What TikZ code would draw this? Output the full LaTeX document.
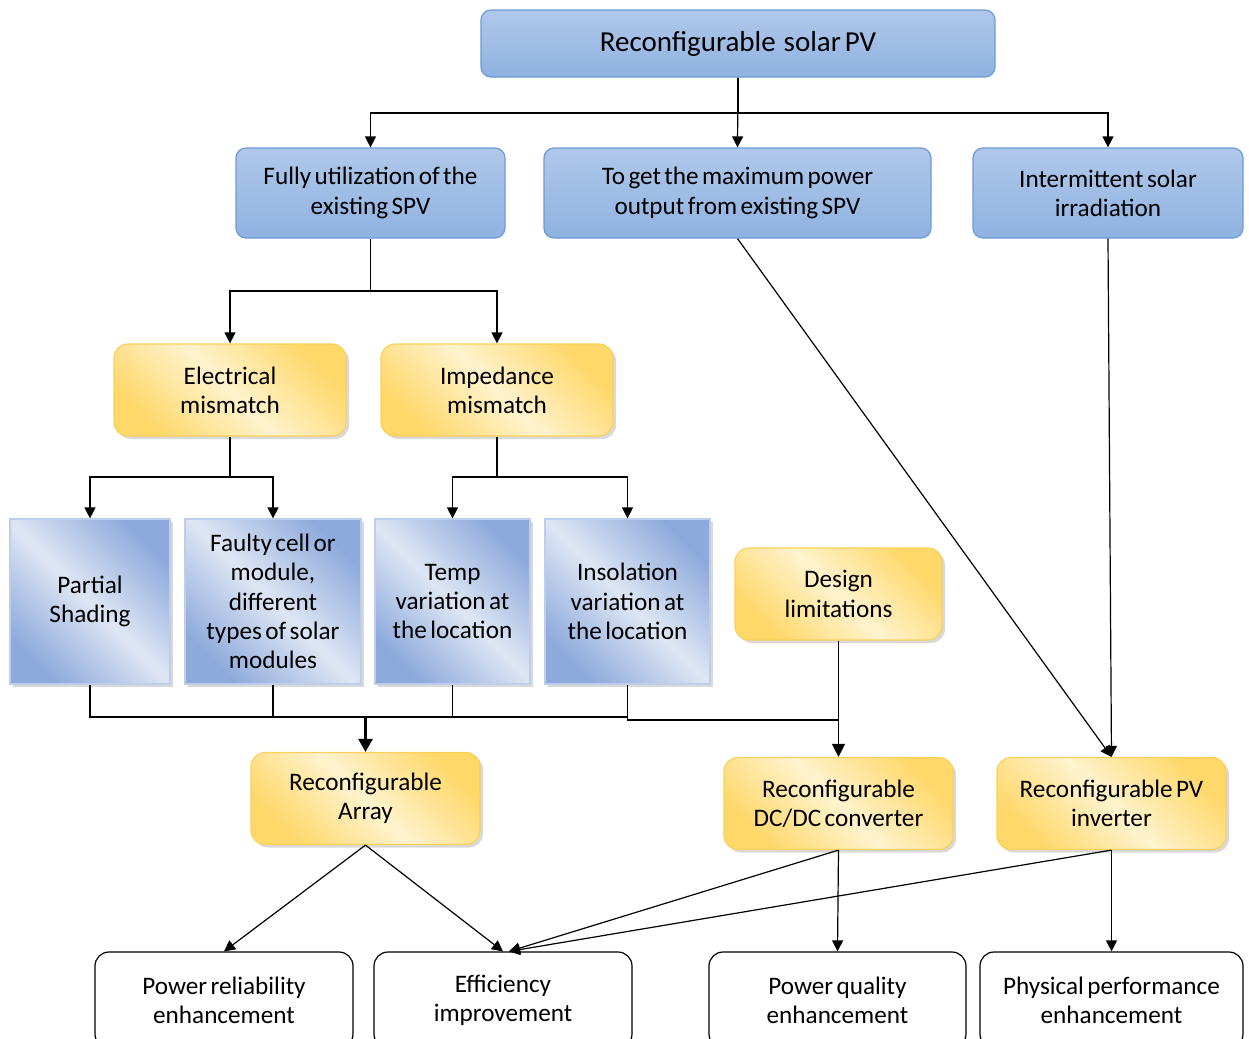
\documentclass[tikz,border=0pt]{standalone}
\usepackage{fontspec}
\setmainfont{Carlito}[WordSpace=0.6]
\usetikzlibrary{positioning,shadows,arrows.meta}
\definecolor{headBlue}{RGB}{176,200,234}
\definecolor{footBlue}{RGB}{143,178,225}
\definecolor{lineBlue}{RGB}{110,154,214}
\definecolor{paleBlue}{RGB}{222,230,244}
\definecolor{deepBlue}{RGB}{142,170,220}
\definecolor{paleGold}{RGB}{255,243,206}
\definecolor{deepGold}{RGB}{255,216,106}
\definecolor{lineGold}{RGB}{250,208,90}

\tikzset{
  boxtext/.style={font=\fontsize{12.6}{14.6}\selectfont, align=center},
  goalbox/.style={boxtext, draw=lineBlue, line width=0.6pt, rounded corners=5pt,
    top color=headBlue, bottom color=footBlue, minimum height=45pt},
  causebox/.style={boxtext, draw=lineGold, line width=0.6pt, rounded corners=7pt,
    shading=axis, top color=deepGold, bottom color=deepGold, middle color=paleGold,
    shading angle=-45, minimum width=116pt, minimum height=46pt,
    drop shadow={shadow xshift=1.5pt, shadow yshift=-1.5pt, opacity=0.3}},
  factorbox/.style={boxtext, draw=paleBlue!60!deepBlue, line width=0.6pt,
    shading=axis, top color=deepBlue, bottom color=deepBlue, middle color=paleBlue,
    shading angle=-45, minimum height=82.5pt, inner sep=2pt,
    drop shadow={shadow xshift=1.5pt, shadow yshift=-1.5pt, opacity=0.3}},
  resultbox/.style={boxtext, draw, line width=0.6pt, rounded corners=7pt,
    fill=white, minimum height=48pt},
  link/.style={line width=0.6pt, -{Triangle[length=5.5pt,width=5.5pt]}},
  wire/.style={line width=0.6pt}
}

\begin{document}
\begin{tikzpicture}[x=0.5pt,y=-0.5pt]
\useasboundingbox (0,0) rectangle (1249,1039);

% top of the tree
\node[goalbox, font=\fontsize{14.5}{17}\selectfont, minimum width=257pt, minimum height=33.5pt]
  (top) at (738,43.5) {Reconfigurable\ \ solar PV};

% why reconfigure
\node[goalbox, minimum width=134.5pt] (fully) at (370.5,193) {Fully utilization of the\\existing SPV};
\node[goalbox, minimum width=193.5pt] (maxp) at (737.5,193) {To get the maximum power\\output from existing SPV};
\node[goalbox, minimum width=135pt] (inter) at (1108,193) {Intermittent solar\\irradiation};

% mismatch causes
\node[causebox] (elec) at (230,390) {Electrical\\mismatch};
\node[causebox] (imped) at (497,390) {Impedance\\mismatch};

% factors
\node[factorbox, minimum width=80pt] (part) at (90,601.5) {Partial\\Shading};
\node[factorbox, minimum width=88pt] (faulty) at (273,601.5) {Faulty cell or\\module,\\different\\types of solar\\modules};
\node[factorbox, minimum width=77.5pt] (temp) at (452.5,601.5) {Temp\\variation at\\the location};
\node[factorbox, minimum width=82.5pt] (insol) at (627.5,601.5) {Insolation\\variation at\\the location};
\node[causebox, minimum width=103.5pt] (design) at (838.5,594) {Design\\limitations};

% solutions
\node[causebox, minimum width=114.5pt] (array) at (365.5,798.5) {Reconfigurable\\Array};
\node[causebox, minimum width=114.5pt] (dcdc) at (838.5,803.5) {Reconfigurable\\DC/DC converter};
\node[causebox, minimum width=114.5pt] (inv) at (1111.5,803.5) {Reconfigurable PV\\inverter};

% outcomes
\node[resultbox, minimum width=129pt] (rel) at (224,1000) {Power reliability\\enhancement};
\node[resultbox, minimum width=129pt] (eff) at (503,1000) {Efficiency\\improvement};
\node[resultbox, minimum width=128.5pt] (qual) at (837.5,1000) {Power quality\\enhancement};
\node[resultbox, minimum width=131.5pt] (phys) at (1111.5,1000) {Physical performance\\enhancement};

% joints
\coordinate (topJoin) at (738,113);
\coordinate (fullyJoin) at (370.5,291);
\coordinate (elecJoin) at (230,477);
\coordinate (impedJoin) at (497,477);
\coordinate (arrJoin) at (365.5,717);
\coordinate (dcJoin) at (838.5,720);

\draw[link] (top.south) -- (maxp.north);
\draw[wire] (top.south) -- (topJoin);
\draw[link] (topJoin) -| (fully.north);
\draw[link] (topJoin) -| (inter.north);

\draw[wire] (fully.south) -- (fullyJoin);
\draw[link] (fullyJoin) -| (elec.north);
\draw[link] (fullyJoin) -| (imped.north);

\draw[wire] (elec.south) -- (elecJoin);
\draw[link] (elecJoin) -| (part.north);
\draw[link] (elecJoin) -| (faulty.north);
\draw[wire] (imped.south) -- (impedJoin);
\draw[link] (impedJoin) -| (temp.north);
\draw[link] (impedJoin) -| (insol.north);

\draw[wire] (part.south) |- (arrJoin);
\draw[wire] (faulty.south) |- (arrJoin);
\draw[wire] (temp.south) |- (arrJoin);
\draw[wire] (insol.south |- arrJoin) -- (arrJoin);
\draw[line width=1.2pt, -{Triangle[length=6.5pt,width=7pt]}] (arrJoin) -- (array.north);

\draw[wire] (insol.south) |- (dcJoin);
\draw[line width=0.6pt, -{Triangle[length=6.5pt,width=6.5pt]}] (design.south) -- (dcdc.north);

\draw[link] (maxp.south) -- (inv.north);
\draw[link] (inter.south) -- (inv.north);

\draw[link] (array.south) -- (rel.north);
\draw[link] (array.south) -- (eff.north);
\draw[link] (dcdc.south) -- ([xshift=3pt]eff.north);
\draw[link] (inv.south) -- ([xshift=3pt]eff.north);
\draw[link] (dcdc.south) -- (qual.north);
\draw[link] (inv.south) -- (phys.north);
\end{tikzpicture}
\end{document}
